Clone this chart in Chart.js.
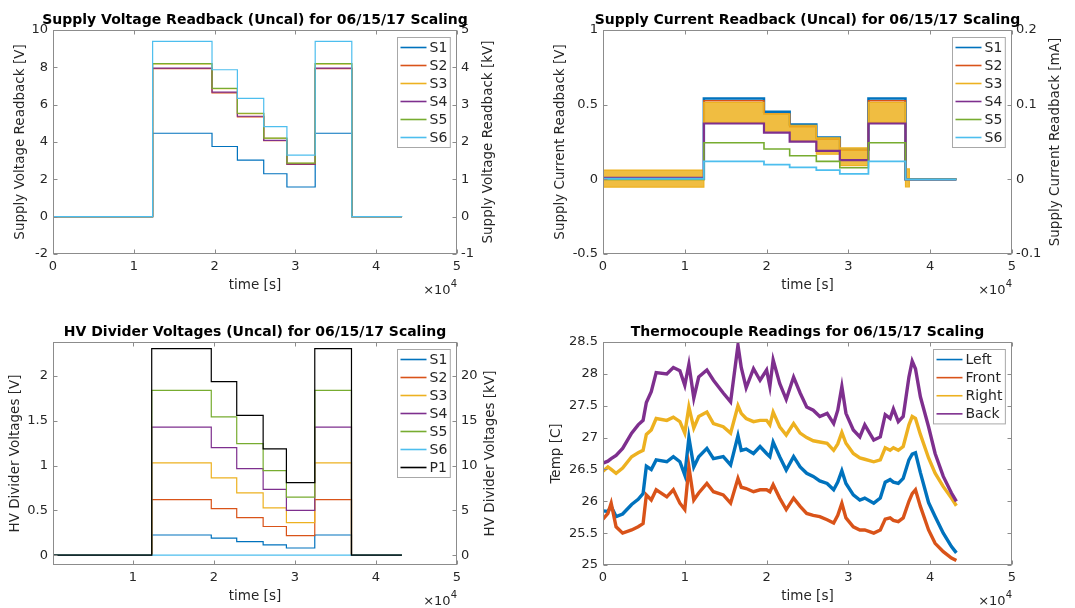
<!DOCTYPE html>
<html>
<head>
<meta charset="utf-8">
<script src="https://cdn.jsdelivr.net/npm/chart.js@4.4.1/dist/chart.umd.min.js"></script>
<style>
  body { margin: 0; background: #fff; }
  #page { position: relative; width: 1075px; height: 608px; overflow: hidden; }
  .q { position: absolute; }
</style>
</head>
<body>
<div id="page">
  <div class="q" style="left:0;top:0;width:537px;height:304px"><canvas id="c1"></canvas></div>
  <div class="q" style="left:537px;top:0;width:538px;height:304px"><canvas id="c2"></canvas></div>
  <div class="q" style="left:0;top:304px;width:537px;height:304px"><canvas id="c3"></canvas></div>
  <div class="q" style="left:537px;top:304px;width:538px;height:304px"><canvas id="c4"></canvas></div>
</div>
<script>
// ================= DATA =================
// step edges [s] for the scaling runs
const stepTimes = [0, 12330, 19680, 22820, 26080, 28950, 32450, 36980, 43200];

// supply voltage readback [V]
const svS1 = [0, 4.47, 3.76, 3.03, 2.30, 1.59, 4.47, 0, 0];
const svS2 = [0, 7.93, 6.63, 5.35, 4.07, 2.80, 7.93, 0, 0];
const svS3 = [0, 8.18, 6.86, 5.52, 4.20, 2.86, 8.18, 0, 0];
const svS4 = [0, 7.96, 6.67, 5.38, 4.09, 2.82, 7.96, 0, 0];
const svS5 = [0, 8.20, 6.87, 5.54, 4.21, 2.87, 8.20, 0, 0];
const svS6 = [0, 9.39, 7.87, 6.34, 4.82, 3.30, 9.39, 0, 0];

// supply current readback [V] (S3 is a noisy band: hi / lo)
const curTimes = [0, 12330, 19680, 22820, 26080, 28950, 32450, 36980, 37450, 43200];
const ciS1 = [0.003, 0.541, 0.452, 0.367, 0.280, 0.200, 0.541, 0, 0, 0];
const ciS2 = [0.005, 0.527, 0.438, 0.352, 0.268, 0.195, 0.527, 0, 0, 0];
const ciS3Hi = [0.062, 0.515, 0.438, 0.362, 0.278, 0.210, 0.515, 0.07, 0, 0];
const ciS3Lo = [-0.052, 0.382, 0.322, 0.255, 0.168, 0.092, 0.382, -0.05, 0, 0];
const ciS4 = [0.010, 0.374, 0.313, 0.252, 0.190, 0.129, 0.374, 0, 0, 0];
const ciS5 = [0.000, 0.245, 0.203, 0.158, 0.120, 0.078, 0.245, 0, 0, 0];
const ciS6 = [0.004, 0.120, 0.098, 0.080, 0.062, 0.037, 0.120, 0, 0, 0];

// HV divider voltages [V]
const hvS1 = [0, 0.225, 0.190, 0.152, 0.115, 0.080, 0.225, 0, 0];
const hvS2 = [0, 0.620, 0.520, 0.420, 0.320, 0.218, 0.620, 0, 0];
const hvS3 = [0, 1.030, 0.862, 0.695, 0.528, 0.363, 1.030, 0, 0];
const hvS4 = [0, 1.430, 1.200, 0.967, 0.735, 0.500, 1.430, 0, 0];
const hvS5 = [0, 1.840, 1.543, 1.245, 0.944, 0.647, 1.840, 0, 0];
const hvS6 = [0, 0, 0, 0, 0, 0, 0, 0, 0];
const hvP1 = [0, 2.305, 1.937, 1.561, 1.186, 0.810, 2.305, 0, 0];

// thermocouples [C]
const tcTimes = [0, 600, 1000, 1600, 2400, 3500, 4300, 4900, 5300, 5900, 6500, 7800, 8600, 9400, 10000,
  10500, 11100, 11700, 12700, 13500, 14700, 15600, 16500, 16900, 17500, 18400, 19200, 20000, 20400,
  20800, 21600, 22400, 23300, 24100, 24900, 25700, 26500, 27400, 28200, 28700, 29200, 29700, 30600,
  31400, 32000, 33100, 33900, 34500, 35100, 35500, 36100, 36700, 37400, 37800, 38200, 38800, 39800,
  40600, 41600, 42600, 43200];
const tcLeft = [25.85, 25.84, 25.92, 25.76, 25.80, 25.95, 26.03, 26.12, 26.55, 26.50, 26.65, 26.62, 26.70, 26.62, 26.41,
  27.00, 26.54, 26.70, 26.83, 26.67, 26.70, 26.57, 27.03, 26.80, 26.82, 26.75, 26.86, 26.75, 26.70,
  26.93, 26.70, 26.49, 26.70, 26.54, 26.44, 26.39, 26.32, 26.28, 26.18, 26.30, 26.48, 26.28, 26.10,
  26.02, 26.05, 25.97, 26.05, 26.30, 26.34, 26.30, 26.28, 26.36, 26.65, 26.74, 26.76, 26.45, 25.98,
  25.76, 25.50, 25.29, 25.19];
const tcFront = [25.72, 25.81, 25.97, 25.60, 25.50, 25.55, 25.60, 25.65, 26.10, 26.02, 26.18, 26.07, 26.18, 25.97, 25.87,
  26.54, 26.02, 26.13, 26.28, 26.15, 26.10, 25.97, 26.36, 26.22, 26.20, 26.15, 26.18, 26.18, 26.15,
  26.26, 26.05, 25.87, 26.05, 25.92, 25.81, 25.78, 25.76, 25.71, 25.66, 25.78, 25.97, 25.74, 25.60,
  25.55, 25.55, 25.50, 25.55, 25.72, 25.74, 25.70, 25.68, 25.74, 26.00, 26.12, 26.18, 25.92, 25.55,
  25.34, 25.21, 25.11, 25.07];
const tcRight = [26.47, 26.54, 26.50, 26.44, 26.52, 26.70, 26.76, 26.80, 27.05, 27.12, 27.30, 27.27, 27.32, 27.25, 27.07,
  27.48, 27.15, 27.33, 27.40, 27.22, 27.17, 27.07, 27.50, 27.38, 27.30, 27.25, 27.27, 27.27, 27.20,
  27.40, 27.17, 27.04, 27.22, 27.07, 27.00, 26.95, 26.93, 26.91, 26.80, 26.90, 27.08, 26.91, 26.75,
  26.68, 26.66, 26.62, 26.65, 26.84, 26.80, 26.84, 26.80, 26.86, 27.20, 27.33, 27.30, 27.05, 26.68,
  26.44, 26.23, 26.05, 25.93];
const tcBack = [26.60, 26.63, 26.67, 26.72, 26.83, 27.07, 27.20, 27.27, 27.55, 27.72, 28.02, 28.00, 28.10, 28.05, 27.82,
  28.15, 27.62, 27.95, 28.06, 27.90, 27.70, 27.56, 28.45, 28.10, 27.78, 28.08, 27.90, 28.06, 27.80,
  28.22, 27.85, 27.60, 27.95, 27.70, 27.48, 27.43, 27.33, 27.38, 27.22, 27.43, 27.80, 27.38, 27.12,
  27.01, 27.20, 26.96, 27.01, 27.36, 27.30, 27.45, 27.25, 27.33, 27.95, 28.20, 28.08, 27.64, 27.17,
  26.75, 26.39, 26.13, 26.00];

// tick labels
const xTicks = [0, 10000, 20000, 30000, 40000, 50000];
const svTicks = [-2, 0, 2, 4, 6, 8, 10];
const svKvTicks = [-1, 0, 1, 2, 3, 4, 5];
const ciTicks = [-0.5, 0, 0.5, 1];
const ciMaTicks = [-0.1, 0, 0.1, 0.2];
const hvTicks = [0, 0.5, 1, 1.5, 2];
const hvKvTicks = [0, 5, 10, 15, 20];
const tcTicks = [25, 25.5, 26, 26.5, 27, 27.5, 28, 28.5];

// ================= STYLE =================
const COL = { s1: '#0072BD', s2: '#D95319', s3: '#EDB120', s4: '#7E2F8E', s5: '#77AC30', s6: '#4DBEEE', p1: '#000000' };
const FONT = '"DejaVu Sans", sans-serif';
Chart.defaults.font.family = FONT;
Chart.defaults.font.size = 13;
Chart.defaults.color = '#262626';

function series(label, xs, ys, color, extra) {
    return Object.assign({
        label: label,
        data: xs.map((x, i) => ({ x: x, y: ys[i] })),
        borderColor: color,
        backgroundColor: color,
        borderWidth: 1.2,
        stepped: true,
        pointRadius: 0,
        fill: false
    }, extra || {});
}

function tickList(arr) {
    return s => { s.ticks = arr.filter(v => v >= s.min - 1e-9 && v <= s.max + 1e-9).map(v => ({ value: v })); };
}

function yScale(pos, min, max, ticks, width, pad) {
    return {
        type: 'linear', position: pos, min: min, max: max,
        grid: { display: false, drawTicks: false }, border: { display: false },
        afterBuildTicks: tickList(ticks),
        afterFit: s => { s.width = width; },
        ticks: { padding: pad, callback: v => String(v) }
    };
}

// ================= MATLAB-LIKE BOX, TITLES, LEGEND =================
const matlabAxes = {
    id: 'matlabAxes',
    afterDraw(chart, args, o) {
        const ctx = chart.ctx, a = chart.chartArea, sc = chart.scales;
        const L = Math.round(a.left) + 0.5, R = Math.round(a.right) - 0.5;
        const T = Math.round(a.top) + 0.5, B = Math.round(a.bottom) - 0.5;
        const tl = 4;
        ctx.save();
        ctx.strokeStyle = '#8c8c8c';
        ctx.lineWidth = 1;
        ctx.strokeRect(L, T, R - L, B - T);
        ctx.beginPath();
        sc.x.ticks.forEach(t => {
            const p = Math.round(sc.x.getPixelForValue(t.value)) + 0.5;
            ctx.moveTo(p, B); ctx.lineTo(p, B - tl);
            ctx.moveTo(p, T); ctx.lineTo(p, T + tl);
        });
        sc.y.ticks.forEach(t => {
            const p = Math.round(sc.y.getPixelForValue(t.value)) + 0.5;
            ctx.moveTo(L, p); ctx.lineTo(L + tl, p);
        });
        const yr = sc.y2 || sc.y;
        yr.ticks.forEach(t => {
            const p = Math.round(yr.getPixelForValue(t.value)) + 0.5;
            ctx.moveTo(R, p); ctx.lineTo(R - tl, p);
        });
        ctx.stroke();

        // title
        const cx = (a.left + a.right) / 2, cy = (a.top + a.bottom) / 2;
        ctx.fillStyle = '#000';
        ctx.font = 'bold 14px ' + FONT;
        ctx.textAlign = 'center';
        ctx.textBaseline = 'middle';
        ctx.fillText(o.title, cx, a.top - 10);

        // axis labels
        ctx.fillStyle = '#262626';
        ctx.font = '13.5px ' + FONT;
        ctx.fillText('time [s]', cx, a.bottom + 31.5);
        [[o.yLabel, a.left - o.yOff], [o.y2Label, a.right + o.y2Off]].forEach(([txt, x]) => {
            if (!txt) return;
            ctx.save();
            ctx.translate(x, cy);
            ctx.rotate(-Math.PI / 2);
            ctx.fillText(txt, 0, 0);
            ctx.restore();
        });

        // x10^4 exponent
        ctx.textAlign = 'right';
        ctx.font = '10px ' + FONT;
        ctx.fillText('4', a.right, a.bottom + 30.5);
        const w4 = ctx.measureText('4').width;
        ctx.font = '13px ' + FONT;
        ctx.fillText('\u00d710', a.right - w4, a.bottom + 36.5);

        // legend
        const items = chart.data.datasets.filter(d => !d.noLegend);
        ctx.font = '14px ' + FONT;
        const tw = Math.max(...items.map(d => ctx.measureText(d.label).width));
        const rowH = o.rowH || 18, w = 3 + 26 + 3 + tw + 3, h = items.length * rowH + 2;
        const x0 = Math.round(a.right - 7 - w) + 0.5, y0 = Math.round(a.top + 7) + 0.5;
        ctx.fillStyle = '#fff';
        ctx.fillRect(x0, y0, w, h);
        ctx.strokeStyle = '#a8a8a8';
        ctx.strokeRect(x0, y0, w, h);
        ctx.textAlign = 'left';
        items.forEach((d, i) => {
            const yy = y0 + 1 + rowH * (i + 0.5);
            ctx.strokeStyle = d.borderColor;
            ctx.lineWidth = 1.6;
            ctx.beginPath();
            ctx.moveTo(x0 + 3, yy); ctx.lineTo(x0 + 29, yy);
            ctx.stroke();
            ctx.fillStyle = '#262626';
            ctx.fillText(d.label, x0 + 32, yy + 0.5);
        });
        ctx.restore();
    }
};

function makeChart(id, datasets, c) {
    datasets.forEach((d, i) => { d.order = datasets.length - i; });
    const scales = {
        x: {
            type: 'linear', min: c.xmin, max: 50000,
            grid: { display: false, drawTicks: false }, border: { display: false },
            afterBuildTicks: tickList(xTicks),
            afterFit: s => { s.height = c.xh; },
            ticks: { padding: 5, maxRotation: 0, autoSkip: false, callback: v => String(v / 10000) }
        },
        y: yScale('left', c.ymin, c.ymax, c.yTicks, c.yw, 5)
    };
    if (c.y2Ticks) scales.y2 = yScale('right', c.y2min, c.y2max, c.y2Ticks, c.y2w, 4);
    return new Chart(document.getElementById(id), {
        type: 'line',
        data: { datasets: datasets },
        options: {
            responsive: true,
            maintainAspectRatio: false,
            animation: false,
            events: [],
            layout: { padding: { top: c.top, right: c.y2Ticks ? 0 : c.y2w, left: 0, bottom: 0 } },
            scales: scales,
            plugins: {
                legend: { display: false },
                tooltip: { enabled: false },
                matlabAxes: c.deco
            }
        },
        plugins: [matlabAxes]
    });
}

// ================= CHARTS =================
makeChart('c1', [
    series('S1', stepTimes, svS1, COL.s1),
    series('S2', stepTimes, svS2, COL.s2),
    series('S3', stepTimes, svS3, COL.s3),
    series('S4', stepTimes, svS4, COL.s4),
    series('S5', stepTimes, svS5, COL.s5),
    series('S6', stepTimes, svS6, COL.s6)
], {
    xmin: 0, ymin: -2, ymax: 10, yTicks: svTicks, y2min: -1, y2max: 5, y2Ticks: svKvTicks,
    yw: 53, y2w: 80, xh: 50, top: 30,
    deco: { title: 'Supply Voltage Readback (Uncal) for 06/15/17 Scaling',
            yLabel: 'Supply Voltage Readback [V]', yOff: 33,
            y2Label: 'Supply Voltage Readback [kV]', y2Off: 31 }
});

makeChart('c2', [
    series('S1', curTimes, ciS1, COL.s1, { borderWidth: 2.5 }),
    series('S2', curTimes, ciS2, COL.s2, { borderWidth: 1.5 }),
    series('S3', curTimes, ciS3Hi, COL.s3, { fill: '+1', backgroundColor: 'rgba(237,177,32,0.85)' }),
    series('S3 lo', curTimes, ciS3Lo, COL.s3, { noLegend: true }),
    series('S4', curTimes, ciS4, COL.s4, { borderWidth: 2.2 }),
    series('S5', curTimes, ciS5, COL.s5, { borderWidth: 1.6 }),
    series('S6', curTimes, ciS6, COL.s6, { borderWidth: 1.8 })
], {
    xmin: 0, ymin: -0.5, ymax: 1, yTicks: ciTicks, y2min: -0.1, y2max: 0.2, y2Ticks: ciMaTicks,
    yw: 66, y2w: 63, xh: 50, top: 30,
    deco: { title: 'Supply Current Readback (Uncal) for 06/15/17 Scaling',
            yLabel: 'Supply Current Readback [V]', yOff: 43,
            y2Label: 'Supply Current Readback [mA]', y2Off: 43 }
});

makeChart('c3', [
    series('S1', stepTimes, hvS1, COL.s1),
    series('S2', stepTimes, hvS2, COL.s2),
    series('S3', stepTimes, hvS3, COL.s3),
    series('S4', stepTimes, hvS4, COL.s4),
    series('S5', stepTimes, hvS5, COL.s5),
    series('S6', stepTimes, hvS6, COL.s6),
    series('P1', stepTimes, hvP1, COL.p1)
], {
    xmin: 150, ymin: -0.11, ymax: 2.38, yTicks: hvTicks, y2min: -1.1, y2max: 23.8, y2Ticks: hvKvTicks,
    yw: 53, y2w: 80, xh: 43, top: 38,
    deco: { title: 'HV Divider Voltages (Uncal) for 06/15/17 Scaling',
            yLabel: 'HV Divider Voltages [V]', yOff: 38,
            y2Label: 'HV Divider Voltages [kV]', y2Off: 33 }
});

makeChart('c4', [
    series('Left', tcTimes, tcLeft, COL.s1, { stepped: false, borderWidth: 3.4 }),
    series('Front', tcTimes, tcFront, COL.s2, { stepped: false, borderWidth: 3.4 }),
    series('Right', tcTimes, tcRight, COL.s3, { stepped: false, borderWidth: 3.4 }),
    series('Back', tcTimes, tcBack, COL.s4, { stepped: false, borderWidth: 3.4 })
], {
    xmin: 0, ymin: 25, ymax: 28.5, yTicks: tcTicks,
    yw: 66, y2w: 63, xh: 43, top: 38,
    deco: { title: 'Thermocouple Readings for 06/15/17 Scaling',
            yLabel: 'Temp [C]', yOff: 47, rowH: 18.1 }
});
</script>
</body>
</html>
